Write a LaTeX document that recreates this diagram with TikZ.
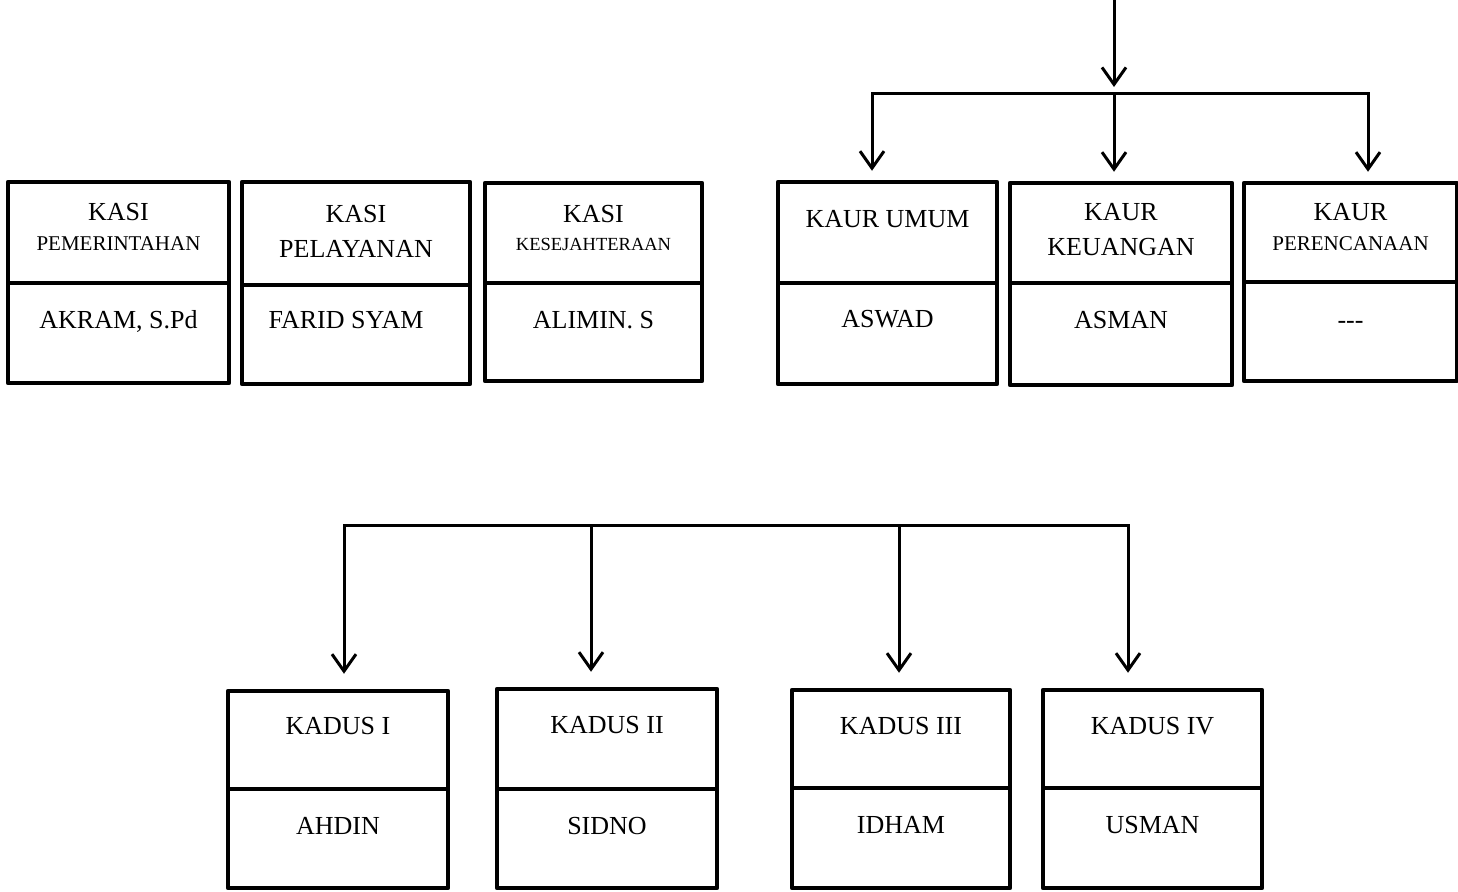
\documentclass[tikz,border=0pt]{standalone}
\usepackage{fontspec}
\setmainfont{Liberation Serif}
\usetikzlibrary{positioning, arrows.meta, fit, calc}

\begin{document}
\begin{tikzpicture}[
  x=1pt, y=-1pt,
  >={Straight Barb[length=17pt, width=24pt]},
  sel/.style={draw=black, line width=4.5pt, line join=round, inner sep=0pt},
  garis/.style={draw=black, line width=3pt, line cap=rect},
  panah/.style={->, garis, shorten >=9pt},
  besar/.style={font=\fontsize{26}{30}\selectfont, inner sep=0pt, anchor=base},
  sedang/.style={font=\fontsize{21}{24}\selectfont, inner sep=0pt, anchor=base},
  kecil/.style={font=\fontsize{18.5}{22}\selectfont, inner sep=0pt, anchor=base},
]
\useasboundingbox (0,0) rectangle (1458,891);

% ---- Kasi --------------------------------------------------------------
\node[sel, fit={(8,182) (229,283)}] (pem) {};
\node[sel, fit={(8,283) (229,383)}] (pemN) {};
\node[sel, fit={(242,182) (470,285)}] (pel) {};
\node[sel, fit={(242,285) (470,384)}] (pelN) {};
\node[sel, fit={(485,183) (702,283)}] (kes) {};
\node[sel, fit={(485,283) (702,381)}] (kesN) {};

\node[besar] (pemA) at (pem.north |- 0,220) {KASI};
\node[sedang] (pemB) at (pem.north |- 0,250) {PEMERINTAHAN};
\node[besar] (pemC) at (pemN.north |- 0,328) {AKRAM, S.Pd};
\node[besar] (pelA) at (pel.north |- 0,222) {KASI};
\node[besar] (pelB) at (pel.north |- 0,257) {PELAYANAN};
\node[besar, xshift=-10pt] (pelC) at (pelN.north |- 0,328) {FARID SYAM};
\node[besar] (kesA) at (kes.north |- 0,222) {KASI};
\node[kecil] (kesB) at (kes.north |- 0,250) {KESEJAHTERAAN};
\node[besar] (kesC) at (kesN.north |- 0,328) {ALIMIN. S};

% ---- Kaur --------------------------------------------------------------
\node[sel, fit={(778,182) (997,283)}] (umum) {};
\node[sel, fit={(778,283) (997,384)}] (umumN) {};
\node[sel, fit={(1010,183) (1232,283)}] (keu) {};
\node[sel, fit={(1010,283) (1232,385)}] (keuN) {};
\node[sel, fit={(1244,183) (1457,282)}] (ren) {};
\node[sel, fit={(1244,282) (1457,381)}] (renN) {};

\node[besar] (umumA) at (umum.north |- 0,227) {KAUR UMUM};
\node[besar] (umumC) at (umumN.north |- 0,327) {ASWAD};
\node[besar] (keuA) at (keu.north |- 0,220) {KAUR};
\node[besar] (keuB) at (keu.north |- 0,255) {KEUANGAN};
\node[besar] (keuC) at (keuN.north |- 0,328) {ASMAN};
\node[besar] (renA) at (ren.north |- 0,220) {KAUR};
\node[sedang] (renB) at (ren.north |- 0,250) {PERENCANAAN};
\node[besar] (renC) at (renN.north |- 0,328) {-{}-{}-};

% ---- Kadus -------------------------------------------------------------
\node[sel, fit={(228,691) (448,789)}] (dus1) {};
\node[sel, fit={(228,789) (448,888)}] (dus1N) {};
\node[sel, fit={(497,689) (717,789)}] (dus2) {};
\node[sel, fit={(497,789) (717,888)}] (dus2N) {};
\node[sel, fit={(792,690) (1010,788)}] (dus3) {};
\node[sel, fit={(792,788) (1010,888)}] (dus3N) {};
\node[sel, fit={(1043,690) (1262,788)}] (dus4) {};
\node[sel, fit={(1043,788) (1262,888)}] (dus4N) {};

\node[besar] (dus1A) at (dus1.north |- 0,734) {KADUS I};
\node[besar] (dus1C) at (dus1N.north |- 0,834) {AHDIN};
\node[besar] (dus2A) at (dus2.north |- 0,733) {KADUS II};
\node[besar] (dus2C) at (dus2N.north |- 0,834) {SIDNO};
\node[besar] (dus3A) at (dus3.north |- 0,734) {KADUS III};
\node[besar] (dus3C) at (dus3N.north |- 0,833) {IDHAM};
\node[besar] (dus4A) at (dus4.north |- 0,734) {KADUS IV};
\node[besar] (dus4C) at (dus4N.north |- 0,833) {USMAN};

% ---- connectors --------------------------------------------------------
\coordinate (atas) at (1114,0);
\coordinate (simpul) at (1114,93);
\coordinate (bL) at (872,93);
\coordinate (bR) at (1368,93);
\draw[panah, shorten >=6pt] (atas) -- (simpul);
\draw[garis] (bL) -- (bR);
\foreach \b/\n in {bL/umum, simpul/keu, bR/ren}
  \draw[panah] (\b) -- (\b |- \n.north);

\coordinate (d1) at (344,525);
\coordinate (d2) at (591,525);
\coordinate (d3) at (899,525);
\coordinate (d4) at (1128,525);
\draw[garis] (d1) -- (d4);
\foreach \b/\n in {d1/dus1, d2/dus2, d3/dus3, d4/dus4}
  \draw[panah, shorten >=15pt] (\b) -- (\b |- \n.north);

\end{tikzpicture}
\end{document}
